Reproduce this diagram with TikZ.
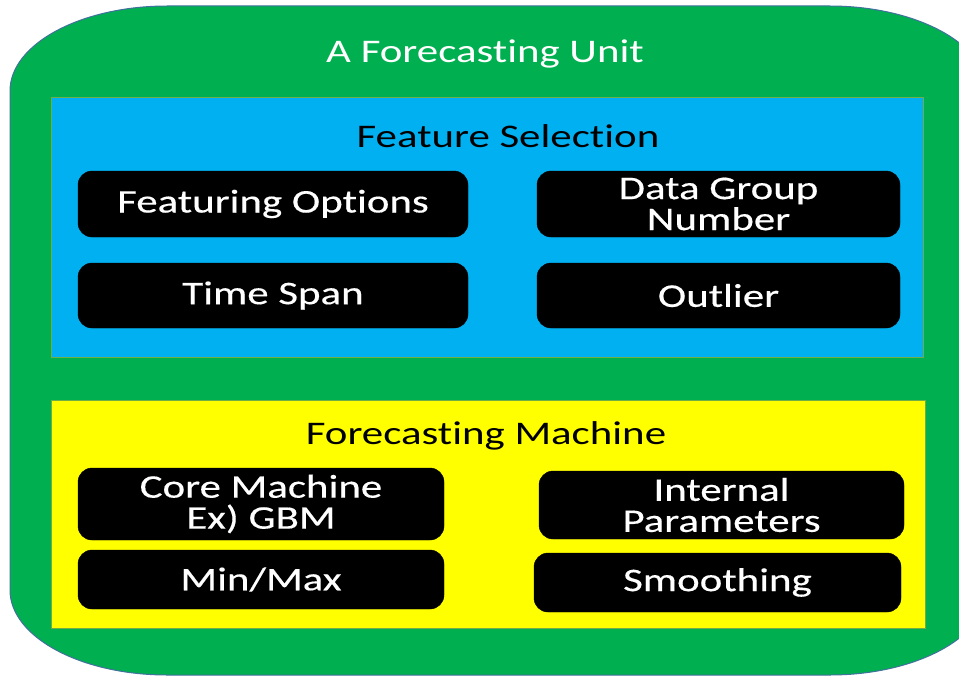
\documentclass[tikz,border=0pt]{standalone}
\usepackage{fontspec}
\setmainfont{Carlito}[Ligatures=NoCommon, FakeStretch=1.3]
\usepackage{xcolor}
\usepackage{tikz}
\usetikzlibrary{positioning}

\definecolor{unitgreen}{HTML}{00B050}
\definecolor{unitedge}{HTML}{41719C}
\definecolor{selblue}{HTML}{00B0F0}
\definecolor{machyellow}{HTML}{FFFF00}
\definecolor{paneledge}{HTML}{70AD47}

\tikzset{
    panel/.style={draw=paneledge, line width=0.8pt},
    blackbox/.style={fill=black, draw=black, rounded corners=14pt},
    boxtext/.style={text=white, align=center, font=\fontsize{33}{31}\selectfont\addfontfeature{FakeBold=0.4}},
    titletext/.style={text=black, font=\fontsize{33}{31}\selectfont}
}

\begin{document}
\begin{tikzpicture}[x=1pt, y=-1pt]

                \clip (0,0) rectangle (959,677);

                % outer unit
                \draw[
                    line width=1pt,
                    draw=unitedge,
                    fill=unitgreen
                ] (830,6) .. controls (916,6) and (987,44) .. (987,91)
                  -- (987,590) .. controls (987,637) and (916,675) .. (830,675)
                  -- (167,675) .. controls (81,675) and (10,637) .. (10,590)
                  -- (10,91) .. controls (10,44) and (81,6) .. (167,6) -- cycle;
                \node[titletext, text=white] (unit) at (485,54) {A Forecasting Unit};

                % feature selection
                \draw[
                    panel,
                    fill=selblue
                ] (51,97) rectangle (923,357);
                \node[titletext] (sel) at (508,136) {Feature Selection};

                \draw[blackbox] (78,171) rectangle (468,237) node[pos=.5, boxtext] (fopt) {Featuring Options};
                \draw[blackbox] (537,171) rectangle (900,237) node[pos=.5, boxtext] (dgn) {Data Group\\Number};
                \draw[blackbox] (78,263) rectangle (468,328) node[pos=.5, boxtext] (span) {Time Span};
                \draw[blackbox] (537,263) rectangle (900,328) node[pos=.5, boxtext] (outl) {Outlier};

                % forecasting machine
                \draw[
                    panel,
                    fill=machyellow
                ] (51,400) rectangle (925,628);
                \node[titletext] (mach) at (486,436) {Forecasting Machine};

                \draw[blackbox] (78,468) rectangle (444,540) node[pos=.5, boxtext] (core) {Core Machine\\Ex) GBM};
                \draw[blackbox] (539,471) rectangle (904,539) node[pos=.5, boxtext] (param) {Internal\\Parameters};
                \draw[blackbox] (78,550) rectangle (444,609) node[pos=.5, boxtext] (minmax) {Min/Max};
                \draw[blackbox] (534,553) rectangle (901,612) node[pos=.5, boxtext] (smooth) {Smoothing};

            \end{tikzpicture}
\end{document}
